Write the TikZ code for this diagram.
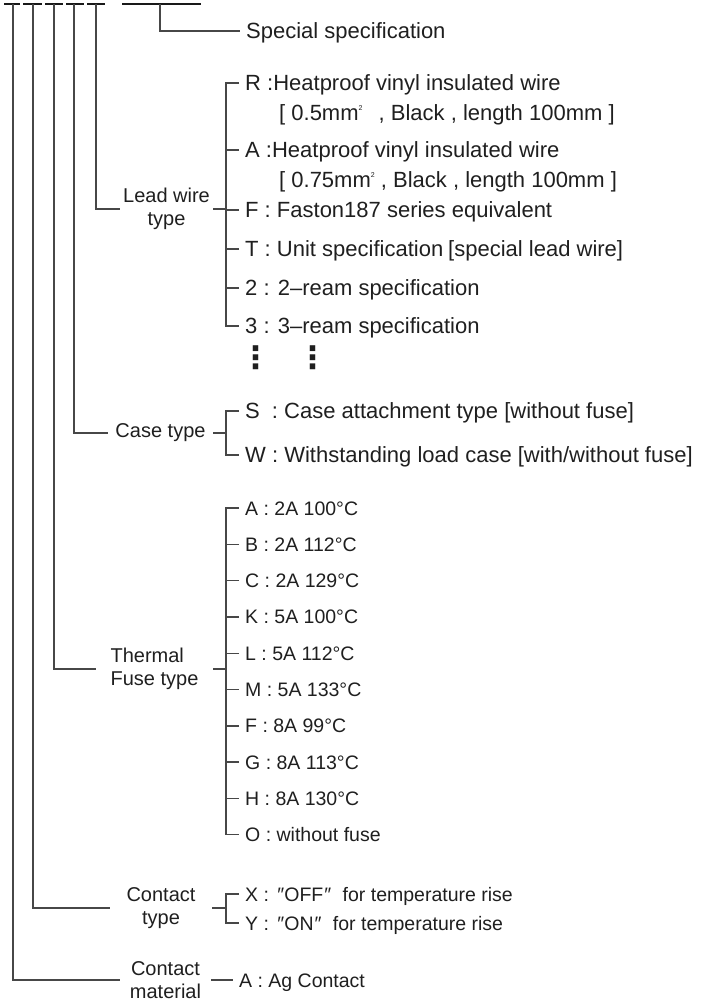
\documentclass[tikz,border=0pt]{standalone}
\usepackage{fontspec}
\setmainfont{Liberation Sans}
\newfontfamily\dotfont{DejaVu Sans}
\usetikzlibrary{positioning}

\newcommand\itemfont{\fontsize{22}{26}\selectfont}
\newcommand\smallfont{\fontsize{19.5}{23}\selectfont}
\newcommand\labelfont{\fontsize{20}{23}\selectfont}
\newcommand\sq{\raisebox{0.45em}{\fontsize{7}{7}\selectfont 2}}

\begin{document}
\begin{tikzpicture}[x=1pt,y=-1pt,
                    wire/.style={line width=1.4pt,draw=black!72},
                    bar/.style={line width=2.4pt,draw=black!90},
                    item/.style={anchor=west,inner xsep=6pt,inner ysep=0pt,
                                 text height=15.5pt,text depth=0pt,
                                 font=\itemfont,text=black!88},
                    small/.style={item,font=\smallfont,text height=14pt},
                    label/.style={inner sep=0pt,align=center,
                                  font=\labelfont,text=black!88},
                    dots/.style={inner sep=0pt,
                                 font=\dotfont\bfseries\fontsize{31}{31}\selectfont,
                                 text=black!88}]

  \useasboundingbox (0,0) rectangle (707,1003);

  % code positions
  \coordinate (c1) at (13,4);
  \coordinate (c2) at (33,4);
  \coordinate (c3) at (54,4);
  \coordinate (c4) at (74,4);
  \coordinate (c5) at (96,4);
  \coordinate (cs) at (160,4);

  \draw[bar] (4,4) -- (20,4)   (23,4) -- (42,4)   (45,4) -- (63,4)
             (66,4) -- (84,4)  (87,4) -- (105,4)  (122,4) -- (201,4);

  % spines of the lists
  \coordinate (jL) at (226,209);
  \coordinate (jC) at (226,433);
  \coordinate (jF) at (226,669);
  \coordinate (jK) at (226,908);

  \node[item] (spec) at (240,31) {Special specification};

  \node[label,minimum width=93pt]  (lead)  at (166.5,209) {Lead wire\\type};
  \node[label,minimum width=105pt] (case)  at (160.5,433) {Case type};
  \node[label,minimum width=117pt,align=left] (fuse) at (154.5,669) {Thermal\\Fuse type};
  \node[label,minimum width=102pt] (ctype) at (161,908)   {Contact\\type};
  \node[label,minimum width=91pt]  (cmat)  at (165.5,980) {Contact\\material};

  % lead wire type
  \node[item] (lR)  at (239,83)  {R :Heatproof vinyl insulated wire};
  \node[item] (lR2) at (273,113) {[ 0.5mm\sq\hspace{10pt} , Black , length 100mm ]};
  \node[item] (lA)  at (239,150) {A :Heatproof vinyl insulated wire};
  \node[item] (lA2) at (273,180) {[ 0.75mm\sq\ , Black , length 100mm ]};
  \node[item] (lF)  at (239,210) {F : Faston187 series equivalent};
  \node[item] (lT)  at (239,249) {T : Unit specification\hspace{5pt}[special lead wire]};
  \node[item] (l2)  at (239,288) {2 : 2–ream specification};
  \node[item] (l3)  at (239,326) {3 : 3–ream specification};
  \node[dots] (dA)  at (256,358) {⋮};
  \node[dots] (dB)  at (313,358) {⋮};

  % case type
  \node[item] (cS) at (239,411) {S\hspace{6pt} : Case attachment type [without fuse]};
  \node[item] (cW) at (239,455) {W : Withstanding load case [with/without fuse]};

  % thermal fuse type
  \node[small] (tA) at (239,508) {A : 2A 100°C};
  \node[small] (tB) [below=36.3pt of tA.west,anchor=west] {B : 2A 112°C};
  \node[small] (tC) [below=36.3pt of tB.west,anchor=west] {C : 2A 129°C};
  \node[small] (tK) [below=36.3pt of tC.west,anchor=west] {K : 5A 100°C};
  \node[small] (tL) [below=36.3pt of tK.west,anchor=west] {L : 5A 112°C};
  \node[small] (tM) [below=36.3pt of tL.west,anchor=west] {M : 5A 133°C};
  \node[small] (tF) [below=36.3pt of tM.west,anchor=west] {F : 8A 99°C};
  \node[small] (tG) [below=36.3pt of tF.west,anchor=west] {G : 8A 113°C};
  \node[small] (tH) [below=36.3pt of tG.west,anchor=west] {H : 8A 130°C};
  \node[small] (tO) [below=36.3pt of tH.west,anchor=west] {O : without fuse};

  % contact type and material
  \node[small] (kX) at (239,894) {X :\hspace{3pt} ″OFF\hspace{1pt}″\hspace{6pt} for temperature rise};
  \node[small] (kY) at (239,923) {Y :\hspace{3pt} ″ON\hspace{1pt}″\hspace{6pt} for temperature rise};
  \node[small] (mA) at (233,980) {A : Ag Contact};

  % code to label
  \draw[wire] (cs) |- (spec.west);
  \draw[wire] (c5) |- (lead.west);
  \draw[wire] (c4) |- (case.west);
  \draw[wire] (c3) |- (fuse.west);
  \draw[wire] (c2) |- (ctype.west);
  \draw[wire] (c1) |- (cmat.west);

  % label to list
  \draw[wire] (lead.east)  -- (jL);
  \draw[wire] (case.east)  -- (jC);
  \draw[wire] (fuse.east)  -- (jF);
  \draw[wire] (ctype.east) -- (jK);
  \draw[wire] (cmat.east)  -- (mA.west);

  \draw[wire] (lR.west) -| (jL) |- (l3.west);
  \draw[wire] (cS.west) -| (jC) |- (cW.west);
  \draw[wire] (tA.west) -| (jF) |- (tO.west);
  \draw[wire] (kX.west) -| (jK) |- (kY.west);

  \path[wire]
        (lA.west) edge (lA.west -| jL)
        (lF.west) edge (lF.west -| jL)
        (lT.west) edge (lT.west -| jL)
        (l2.west) edge (l2.west -| jL)
        (tB.west) edge (tB.west -| jF)
        (tC.west) edge (tC.west -| jF)
        (tK.west) edge (tK.west -| jF)
        (tL.west) edge (tL.west -| jF)
        (tM.west) edge (tM.west -| jF)
        (tF.west) edge (tF.west -| jF)
        (tG.west) edge (tG.west -| jF)
        (tH.west) edge (tH.west -| jF)
  ;
\end{tikzpicture}
\end{document}
